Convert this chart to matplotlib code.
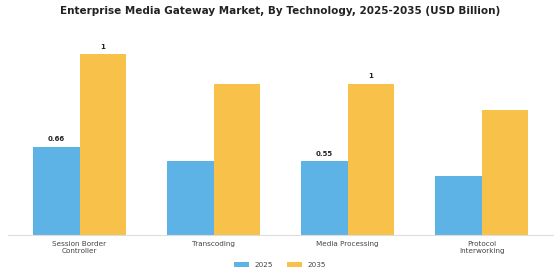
import numpy as np
import matplotlib.pyplot as plt

# Datos del gráfico
categorias = ['Session Border\nController', 'Transcoding', 'Media Processing', 'Protocol\nInterworking']
valores_2025 = [0.66, 0.55, 0.55, 0.44]
valores_2035 = [1.35, 1.13, 1.13, 0.93]
etiquetas_2025 = ['0.66', '', '0.55', '']
etiquetas_2035 = ['1', '', '1', '']

color_2025 = '#5DB3E6'
color_2035 = '#F8C24A'

fig = plt.figure(figsize=(5.6, 2.8), dpi=100)
ax = fig.add_axes([0.014, 0.161, 0.974, 0.678])

x = np.arange(len(categorias))
ancho = 0.35
barras1 = ax.bar(x - ancho / 2, valores_2025, ancho, color=color_2025, label='2025')
barras2 = ax.bar(x + ancho / 2, valores_2035, ancho, color=color_2035, label='2035')

# Etiquetas encima de algunas barras
for barras, etiquetas in [(barras1, etiquetas_2025), (barras2, etiquetas_2035)]:
    for b, txt in zip(barras, etiquetas):
        if txt:
            ax.annotate(txt, (b.get_x() + b.get_width() / 2, b.get_height()),
                        xytext=(0, 3), textcoords='offset points',
                        ha='center', va='bottom', fontsize=5, fontweight='bold',
                        color='#222222')

ax.set_xticks(x)
ax.set_xticklabels(categorias, fontsize=5.2, color='#444444', linespacing=1.15)
ax.tick_params(axis='x', length=0, pad=4.5)
ax.set_yticks([])
for lado in ['top', 'right', 'left']:
    ax.spines[lado].set_visible(False)
ax.spines['bottom'].set_color('#DDDDDD')
ax.spines['bottom'].set_linewidth(0.8)

fig.text(0.5, 0.96, 'Enterprise Media Gateway Market, By Technology, 2025-2035 (USD Billion)',
         ha='center', va='center', fontsize=7.5, fontweight='bold', color='#222222')

fig.legend(handles=[barras1, barras2], labels=['2025', '2035'], loc='center',
           bbox_to_anchor=(0.5, 0.053), ncol=2, frameon=False, fontsize=5.2,
           handlelength=2.1, handleheight=0.7, handletextpad=0.8,
           columnspacing=1.9, labelcolor='#444444')

plt.savefig('out.png', dpi=100)
